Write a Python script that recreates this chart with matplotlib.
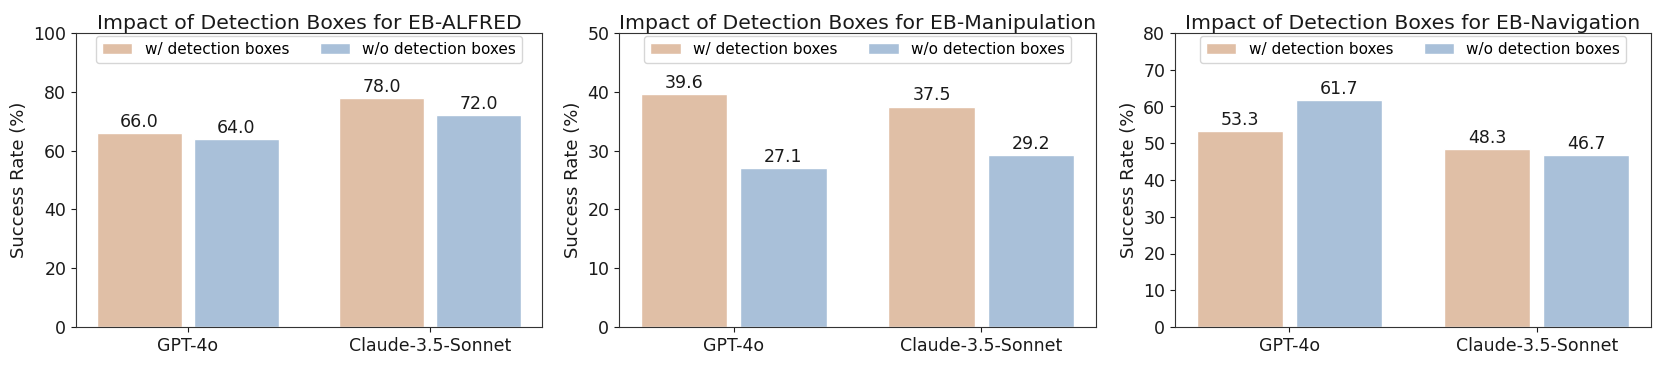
import matplotlib
matplotlib.use("Agg")
import matplotlib.pyplot as plt
import numpy as np

models = ["GPT-4o", "Claude-3.5-Sonnet"]
series_labels = ["w/ detection boxes", "w/o detection boxes"]
titles = ["Impact of Detection Boxes for EB-ALFRED",
          "Impact of Detection Boxes for EB-Manipulation",
          "Impact of Detection Boxes for EB-Navigation"]
alfred_with = [66.0, 78.0]
alfred_without = [64.0, 72.0]
manip_with = [39.6, 37.5]
manip_without = [27.1, 29.2]
nav_with = [53.3, 48.3]
nav_without = [61.7, 46.7]
ylims = [100, 50, 80]
yticks = [np.arange(0, 101, 20), np.arange(0, 51, 10), np.arange(0, 81, 10)]

colors = ["#e0bfa6", "#a9c0d9"]
text_color = "#1a1a1a"

plt.rcParams["font.family"] = "DejaVu Sans"
fig = plt.figure(figsize=(16.61, 3.66), dpi=100)
positions = [
    [76/1661, 39/366, 466/1661, 294/366],
    [619/1661, 39/366, 477/1661, 294/366],
    [1175/1661, 39/366, 476/1661, 294/366],
]
data = [(alfred_with, alfred_without), (manip_with, manip_without), (nav_with, nav_without)]

x = np.arange(len(models))
for i, (pos, (w, wo)) in enumerate(zip(positions, data)):
    ax = fig.add_axes(pos)
    b1 = ax.bar(x - 0.2, w, width=0.35, color=colors[0], edgecolor="white", linewidth=1, label=series_labels[0])
    b2 = ax.bar(x + 0.2, wo, width=0.35, color=colors[1], edgecolor="white", linewidth=1, label=series_labels[1])
    for bars in (b1, b2):
        for rect in bars:
            h = rect.get_height()
            ax.annotate(f"{h:.1f}", (rect.get_x() + rect.get_width()/2, h),
                        xytext=(0, 1.5), textcoords="offset points",
                        ha="center", va="bottom", fontsize=12.5, color=text_color)
    ax.set_ylim(0, ylims[i])
    ax.set_yticks(yticks[i])
    ax.set_xticks(x)
    ax.set_xticklabels(models)
    ax.tick_params(axis="x", labelsize=12.5, colors=text_color)
    ax.tick_params(axis="y", labelsize=12.5, colors=text_color)
    ax.set_ylabel("Success Rate (%)", fontsize=13, color=text_color)
    ax.set_title(titles[i], fontsize=14.7, color=text_color, pad=3)
    for s in ax.spines.values():
        s.set_color("#333333")
    ax.legend(loc="upper center", ncol=2, fontsize=11, frameon=True,
              borderaxespad=0.2)
fig.savefig("out.png", dpi=100)
